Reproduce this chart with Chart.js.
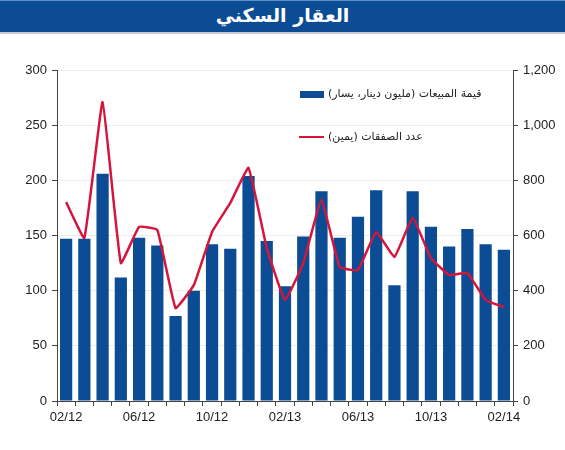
<!DOCTYPE html>
<html>
<head>
<meta charset="utf-8">
<script src="https://cdn.jsdelivr.net/npm/chart.js@4.4.1/dist/chart.umd.min.js"></script>
<style>
  html, body { margin: 0; padding: 0; background: #fff; }
  #wrap { position: relative; width: 565px; height: 450px; overflow: hidden; }
  #title {
    position: absolute; left: 0; top: 0; width: 565px; height: 34px;
    background: #0b4c95; border-top: 1px solid #5d8fc9; border-bottom: 2px solid #c9cdd3;
    box-sizing: border-box;
  }
  #title span {
    position: absolute; left: 0; width: 565px; top: 3px; text-align: center;
    color: #fff; font: bold 19px "DejaVu Sans", sans-serif; direction: rtl;
  }
  .lg { position: absolute; font: 11px "DejaVu Sans", sans-serif; color: #222; white-space: nowrap; direction: rtl; }
  .sw { position: absolute; }
  canvas { position: absolute; left: 0; top: 0; }
</style>
</head>
<body>
<div id="wrap">
  <canvas id="c" width="565" height="450"></canvas>
  <div id="title"><span>العقار السكني</span></div>
  <div class="sw" style="left:300px;top:91px;width:24px;height:7px;background:#0b4c95"></div>
  <div class="lg" style="left:328px;top:87px">قيمة المبيعات (مليون دينار، يسار)</div>
  <div class="sw" style="left:299px;top:136px;width:25px;height:2px;background:#d4163c"></div>
  <div class="lg" style="left:328px;top:130px">عدد الصفقات (يمين)</div>
</div>
<script>
// شهريا من 02/12 الى 02/14
const months = ["02/12","03/12","04/12","05/12","06/12","07/12","08/12","09/12","10/12","11/12","12/12","01/13",
  "02/13","03/13","04/13","05/13","06/13","07/13","08/13","09/13","10/13","11/13","12/13","01/14","02/14"];
const salesValue = [147,147,206,112,148,141,77,100,142,138,204,145,
  104,149,190,148,167,191,105,190,158,140,156,142,137];
const dealsCount = [721,591,1084,500,631,620,337,420,613,718,845,555,
  366,500,729,486,475,613,522,664,518,457,464,366,341];
const leftTicks = [0,50,100,150,200,250,300];
const rightTicks = [0,200,400,600,800,1000,1200];

const blue = "#0b4c95";
const red = "#d4163c";
const axisFont = { family: "Liberation Sans, Arial, sans-serif", size: 13 };

new Chart(document.getElementById("c"), {
  data: {
    labels: months,
    datasets: [
      {
        type: "line",
        data: dealsCount,
        yAxisID: "y2",
        borderColor: red,
        borderWidth: 2.5,
        pointRadius: 0,
        tension: 0.1,
        order: 0
      },
      {
        type: "bar",
        data: salesValue,
        yAxisID: "y",
        backgroundColor: blue,
        categoryPercentage: 1,
        barPercentage: 0.67,
        order: 1
      }
    ]
  },
  options: {
    responsive: false,
    animation: false,
    layout: { padding: { top: 70, left: 0, right: 0, bottom: 0 } },
    plugins: { legend: { display: false }, tooltip: { enabled: false } },
    scales: {
      x: {
        offset: true,
        grid: { offset: true, drawOnChartArea: false, tickLength: 5, tickColor: "#444" },
        border: { color: "#444", width: 1 },
        ticks: {
          autoSkip: false, maxRotation: 0, color: "#222", font: axisFont, padding: 4,
          callback: (v, i) => i % 4 === 0 ? months[i] : ""
        },
        afterFit: s => { s.height = 49; }
      },
      y: {
        position: "left",
        min: 0, max: 300,
        afterBuildTicks: s => { s.ticks = leftTicks.map(v => ({ value: v })); },
        grid: { color: "#ececec", tickLength: 5, tickColor: "#444" },
        border: { color: "#444", width: 1 },
        ticks: { color: "#222", font: axisFont, padding: 5 },
        afterFit: s => { s.width = 57; }
      },
      y2: {
        position: "right",
        min: 0, max: 1200,
        afterBuildTicks: s => { s.ticks = rightTicks.map(v => ({ value: v })); },
        grid: { drawOnChartArea: false, tickLength: 5, tickColor: "#444" },
        border: { color: "#444", width: 1 },
        ticks: { color: "#222", font: axisFont, padding: 5, callback: v => v.toLocaleString("en-US") },
        afterFit: s => { s.width = 52; }
      }
    }
  }
});
</script>
</body>
</html>
